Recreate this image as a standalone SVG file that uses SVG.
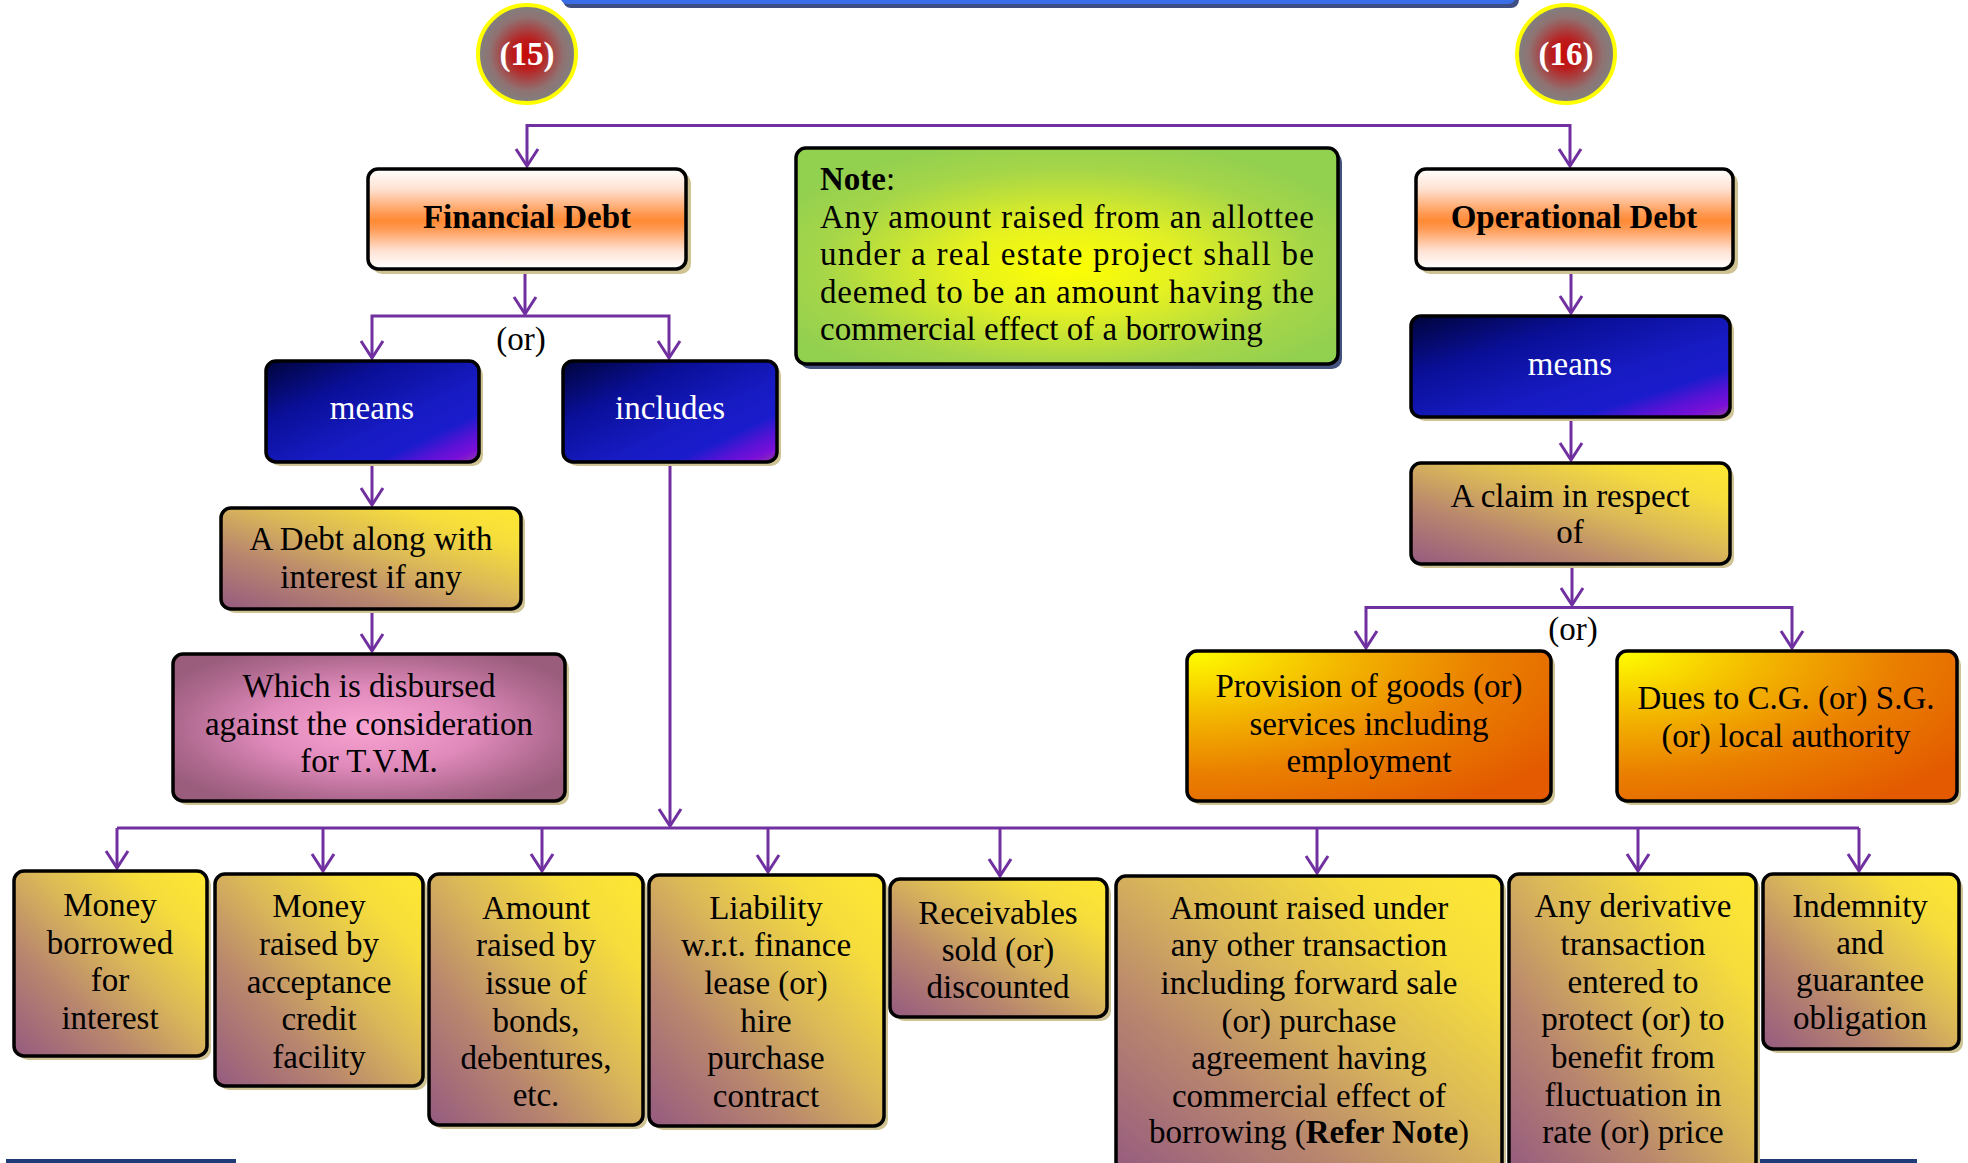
<svg xmlns="http://www.w3.org/2000/svg" width="1968" height="1163" viewBox="0 0 1968 1163">
  <style>
    .t { font-family: "Liberation Serif", "DejaVu Serif", serif; font-size: 33px; text-anchor: middle; fill: #000; }
    .l { text-anchor: start; }
    .w { fill: #fff; }
    .b { font-weight: bold; }
    .box { stroke: #000; stroke-width: 3.5; }
    .sh { fill: #cfc293; }
    .conn { fill: none; stroke: #7030a0; stroke-width: 3; }
    .arr { marker-end: url(#arrow); }
  </style>
  <defs>
    <marker id="arrow" markerUnits="userSpaceOnUse" viewBox="-20 -14 24 28" markerWidth="24" markerHeight="28" refX="0" refY="0" orient="auto">
      <path d="M-17,-11 L0,0 L-17,11" fill="none" stroke="#7030a0" stroke-width="3" stroke-linejoin="miter"/>
    </marker>
    <linearGradient id="gHead" x1="0" y1="0" x2="0" y2="1">
      <stop offset="0" stop-color="#ffffff"/>
      <stop offset="0.2" stop-color="#ffe2d2"/>
      <stop offset="0.44" stop-color="#ff9b55"/>
      <stop offset="0.52" stop-color="#ff8a35"/>
      <stop offset="0.6" stop-color="#ff9b55"/>
      <stop offset="0.82" stop-color="#ffe2d4"/>
      <stop offset="1" stop-color="#ffffff"/>
    </linearGradient>
    <linearGradient id="gBlue" x1="0" y1="0" x2="1" y2="1">
      <stop offset="0" stop-color="#00043a"/>
      <stop offset="0.3" stop-color="#0a0f98"/>
      <stop offset="0.6" stop-color="#171bc2"/>
      <stop offset="0.76" stop-color="#1a1ccc"/>
      <stop offset="0.86" stop-color="#5a12d6"/>
      <stop offset="0.93" stop-color="#7a0fd8"/>
      <stop offset="1" stop-color="#9040a0"/>
    </linearGradient>
    <linearGradient id="gGold" x1="0" y1="1" x2="1" y2="0">
      <stop offset="0" stop-color="#955a80"/>
      <stop offset="0.3" stop-color="#b8866e"/>
      <stop offset="0.55" stop-color="#dbb858"/>
      <stop offset="0.8" stop-color="#f6dd3c"/>
      <stop offset="1" stop-color="#ffe832"/>
    </linearGradient>
    <radialGradient id="gPink" cx="0.5" cy="0.5" r="0.6">
      <stop offset="0" stop-color="#f8a4d2"/>
      <stop offset="0.45" stop-color="#e08abb"/>
      <stop offset="0.8" stop-color="#b06a90"/>
      <stop offset="1" stop-color="#9a5d7c"/>
    </radialGradient>
    <radialGradient id="gNote" cx="0.5" cy="0.55" r="0.6">
      <stop offset="0" stop-color="#ffff00"/>
      <stop offset="0.35" stop-color="#e4f022"/>
      <stop offset="0.75" stop-color="#a6d648"/>
      <stop offset="1" stop-color="#92d050"/>
    </radialGradient>
    <radialGradient id="gOrange" cx="0" cy="0" r="1.25" fx="0" fy="0">
      <stop offset="0" stop-color="#ffff00"/>
      <stop offset="0.35" stop-color="#f3b600"/>
      <stop offset="0.65" stop-color="#ea8000"/>
      <stop offset="1" stop-color="#e35a00"/>
    </radialGradient>
    <radialGradient id="gBadge" cx="0.5" cy="0.5" r="0.5">
      <stop offset="0" stop-color="#c80a0a"/>
      <stop offset="0.3" stop-color="#bb1c1c"/>
      <stop offset="0.75" stop-color="#907272"/>
      <stop offset="1" stop-color="#808080"/>
    </radialGradient>
  </defs>

  <rect width="1968" height="1163" fill="#fff"/>

  <!-- page rules -->
  <g id="rules">
    <rect x="563" y="-27" width="956" height="35" rx="8" fill="#3f4e82"/>
    <rect x="560" y="-31" width="956" height="35" rx="8" fill="#3a6ee8"/>
    <rect x="6" y="1159" width="230" height="4" fill="#1f3c78"/>
    <rect x="1757" y="1159" width="160" height="4" fill="#1f3c78"/>
  </g>

  <!-- section badges -->
  <g id="badge15">
    <circle cx="527" cy="54" r="49" fill="url(#gBadge)" stroke="#ffff00" stroke-width="4"/>
    <text class="t w b" x="527" y="65" font-size="34">(15)</text>
  </g>
  <g id="badge16">
    <circle cx="1566" cy="54" r="49" fill="url(#gBadge)" stroke="#ffff00" stroke-width="4"/>
    <text class="t w b" x="1566" y="65" font-size="34">(16)</text>
  </g>

  <!-- connectors -->
  <g id="connectors">
    <path class="conn arr" d="M1048,125.5 H527 V166"/>
    <path class="conn arr" d="M1048,125.5 H1570 V166"/>
    <path class="conn arr" d="M525,271 V314"/>
    <path class="conn arr" d="M525,316 H372 V358"/>
    <path class="conn arr" d="M525,316 H669 V358"/>
    <path class="conn arr" d="M372,463 V505"/>
    <path class="conn arr" d="M372,610 V651"/>
    <path class="conn arr" d="M670,463 V826"/>
    <path class="conn" d="M117,828 H1859"/>
    <path class="conn arr" d="M117,828 V868"/>
    <path class="conn arr" d="M323,828 V871"/>
    <path class="conn arr" d="M542,828 V871"/>
    <path class="conn arr" d="M768,828 V872"/>
    <path class="conn arr" d="M1000,828 V876"/>
    <path class="conn arr" d="M1317,828 V873"/>
    <path class="conn arr" d="M1638,828 V871"/>
    <path class="conn arr" d="M1859,828 V871"/>
    <path class="conn arr" d="M1571,271 V313"/>
    <path class="conn arr" d="M1571,418 V460"/>
    <path class="conn arr" d="M1572,565 V605"/>
    <path class="conn arr" d="M1572,607.5 H1366 V648"/>
    <path class="conn arr" d="M1572,607.5 H1792 V648"/>
    <text class="t" x="521" y="350">(or)</text>
    <text class="t" x="1573" y="640">(or)</text>
  </g>

  <!-- left branch: financial debt -->
  <g id="financial-debt">
    <rect class="sh" x="372" y="173" width="319" height="101" rx="10"/>
    <rect class="box" x="368" y="169" width="318" height="100" rx="10" fill="url(#gHead)"/>
    <text class="t b" x="527" y="228">Financial Debt</text>
  </g>
  <g id="fd-means">
    <rect class="sh" x="270" y="365" width="213" height="101" rx="10"/>
    <rect class="box" x="266" y="361" width="213" height="101" rx="10" fill="url(#gBlue)"/>
    <text class="t w" x="372" y="419">means</text>
  </g>
  <g id="fd-includes">
    <rect class="sh" x="567" y="365" width="214" height="101" rx="10"/>
    <rect class="box" x="563" y="361" width="214" height="101" rx="10" fill="url(#gBlue)"/>
    <text class="t w" x="670" y="419">includes</text>
  </g>
  <g id="fd-debt-interest">
    <rect class="sh" x="225" y="512" width="300" height="101" rx="10"/>
    <rect class="box" x="221" y="508" width="300" height="101" rx="10" fill="url(#gGold)"/>
    <text class="t" x="371" y="550">A Debt along with</text>
    <text class="t" x="371" y="588">interest if any</text>
  </g>
  <g id="fd-disbursed">
    <rect class="sh" x="177" y="658" width="392" height="147" rx="10"/>
    <rect class="box" x="173" y="654" width="392" height="147" rx="10" fill="url(#gPink)"/>
    <text class="t" x="369" y="697">Which is disbursed</text>
    <text class="t" x="369" y="735">against the consideration</text>
    <text class="t" x="369" y="772">for T.V.M.</text>
  </g>

  <!-- note -->
  <g id="note">
    <rect x="800" y="152" width="542" height="217" rx="10" fill="#44527f"/>
    <rect class="box" x="796" y="148" width="542" height="216" rx="10" fill="url(#gNote)"/>
    <text class="t l" x="820" y="190"><tspan class="b">Note</tspan>:</text>
    <text class="t l" x="820" y="228" textLength="494" lengthAdjust="spacing">Any amount raised from an allottee</text>
    <text class="t l" x="820" y="265" textLength="494" lengthAdjust="spacing">under a real estate project shall be</text>
    <text class="t l" x="820" y="303" textLength="494" lengthAdjust="spacing">deemed to be an amount having the</text>
    <text class="t l" x="820" y="340">commercial effect of a borrowing</text>
  </g>

  <!-- right branch: operational debt -->
  <g id="operational-debt">
    <rect class="sh" x="1420" y="173" width="318" height="101" rx="10"/>
    <rect class="box" x="1416" y="169" width="317" height="100" rx="10" fill="url(#gHead)"/>
    <text class="t b" x="1574" y="228">Operational Debt</text>
  </g>
  <g id="od-means">
    <rect class="sh" x="1415" y="320" width="319" height="101" rx="10"/>
    <rect class="box" x="1411" y="316" width="319" height="101" rx="10" fill="url(#gBlue)"/>
    <text class="t w" x="1570" y="375">means</text>
  </g>
  <g id="od-claim">
    <rect class="sh" x="1415" y="467" width="319" height="101" rx="10"/>
    <rect class="box" x="1411" y="463" width="319" height="101" rx="10" fill="url(#gGold)"/>
    <text class="t" x="1570" y="507">A claim in respect</text>
    <text class="t" x="1570" y="543">of</text>
  </g>
  <g id="od-goods">
    <rect class="sh" x="1191" y="655" width="364" height="150" rx="10"/>
    <rect class="box" x="1187" y="651" width="364" height="150" rx="10" fill="url(#gOrange)"/>
    <text class="t" x="1369" y="697">Provision of goods (or)</text>
    <text class="t" x="1369" y="735">services including</text>
    <text class="t" x="1369" y="772">employment</text>
  </g>
  <g id="od-dues">
    <rect class="sh" x="1621" y="655" width="340" height="150" rx="10"/>
    <rect class="box" x="1617" y="651" width="340" height="150" rx="10" fill="url(#gOrange)"/>
    <text class="t" x="1786" y="709">Dues to C.G. (or) S.G.</text>
    <text class="t" x="1786" y="747">(or) local authority</text>
  </g>

  <!-- financial debt inclusions -->
  <g id="fd-money-borrowed">
    <rect class="sh" x="18" y="875" width="193" height="185" rx="10"/>
    <rect class="box" x="14" y="871" width="193" height="185" rx="10" fill="url(#gGold)"/>
    <text class="t" x="110" y="916">Money</text>
    <text class="t" x="110" y="954">borrowed</text>
    <text class="t" x="110" y="991">for</text>
    <text class="t" x="110" y="1029">interest</text>
  </g>
  <g id="fd-acceptance-credit">
    <rect class="sh" x="219" y="878" width="208" height="212" rx="10"/>
    <rect class="box" x="215" y="874" width="208" height="212" rx="10" fill="url(#gGold)"/>
    <text class="t" x="319" y="917">Money</text>
    <text class="t" x="319" y="955">raised by</text>
    <text class="t" x="319" y="993">acceptance</text>
    <text class="t" x="319" y="1030">credit</text>
    <text class="t" x="319" y="1068">facility</text>
  </g>
  <g id="fd-bonds">
    <rect class="sh" x="433" y="878" width="214" height="251" rx="10"/>
    <rect class="box" x="429" y="874" width="214" height="251" rx="10" fill="url(#gGold)"/>
    <text class="t" x="536" y="919">Amount</text>
    <text class="t" x="536" y="956">raised by</text>
    <text class="t" x="536" y="994">issue of</text>
    <text class="t" x="536" y="1032">bonds,</text>
    <text class="t" x="536" y="1069">debentures,</text>
    <text class="t" x="536" y="1106">etc.</text>
  </g>
  <g id="fd-finance-lease">
    <rect class="sh" x="653" y="879" width="235" height="251" rx="10"/>
    <rect class="box" x="649" y="875" width="235" height="251" rx="10" fill="url(#gGold)"/>
    <text class="t" x="766" y="919">Liability</text>
    <text class="t" x="766" y="956">w.r.t. finance</text>
    <text class="t" x="766" y="994">lease (or)</text>
    <text class="t" x="766" y="1032">hire</text>
    <text class="t" x="766" y="1069">purchase</text>
    <text class="t" x="766" y="1107">contract</text>
  </g>
  <g id="fd-receivables">
    <rect class="sh" x="894" y="883" width="217" height="138" rx="10"/>
    <rect class="box" x="890" y="879" width="217" height="138" rx="10" fill="url(#gGold)"/>
    <text class="t" x="998" y="924">Receivables</text>
    <text class="t" x="998" y="961">sold (or)</text>
    <text class="t" x="998" y="998">discounted</text>
  </g>
  <g id="fd-other-transaction">
    <rect class="sh" x="1120" y="880" width="386" height="300" rx="10"/>
    <rect class="box" x="1116" y="876" width="386" height="300" rx="10" fill="url(#gGold)"/>
    <text class="t" x="1309" y="919">Amount raised under</text>
    <text class="t" x="1309" y="956">any other transaction</text>
    <text class="t" x="1309" y="994">including forward sale</text>
    <text class="t" x="1309" y="1032">(or) purchase</text>
    <text class="t" x="1309" y="1069">agreement having</text>
    <text class="t" x="1309" y="1107">commercial effect of</text>
    <text class="t" x="1309" y="1143">borrowing (<tspan class="b">Refer Note</tspan>)</text>
  </g>
  <g id="fd-derivative">
    <rect class="sh" x="1513" y="878" width="247" height="300" rx="10"/>
    <rect class="box" x="1509" y="874" width="247" height="300" rx="10" fill="url(#gGold)"/>
    <text class="t" x="1633" y="917">Any derivative</text>
    <text class="t" x="1633" y="955">transaction</text>
    <text class="t" x="1633" y="993">entered to</text>
    <text class="t" x="1633" y="1030">protect (or) to</text>
    <text class="t" x="1633" y="1068">benefit from</text>
    <text class="t" x="1633" y="1106">fluctuation in</text>
    <text class="t" x="1633" y="1143">rate (or) price</text>
  </g>
  <g id="fd-indemnity">
    <rect class="sh" x="1767" y="878" width="196" height="175" rx="10"/>
    <rect class="box" x="1763" y="874" width="196" height="175" rx="10" fill="url(#gGold)"/>
    <text class="t" x="1860" y="917">Indemnity</text>
    <text class="t" x="1860" y="954">and</text>
    <text class="t" x="1860" y="991">guarantee</text>
    <text class="t" x="1860" y="1029">obligation</text>
  </g>
</svg>
